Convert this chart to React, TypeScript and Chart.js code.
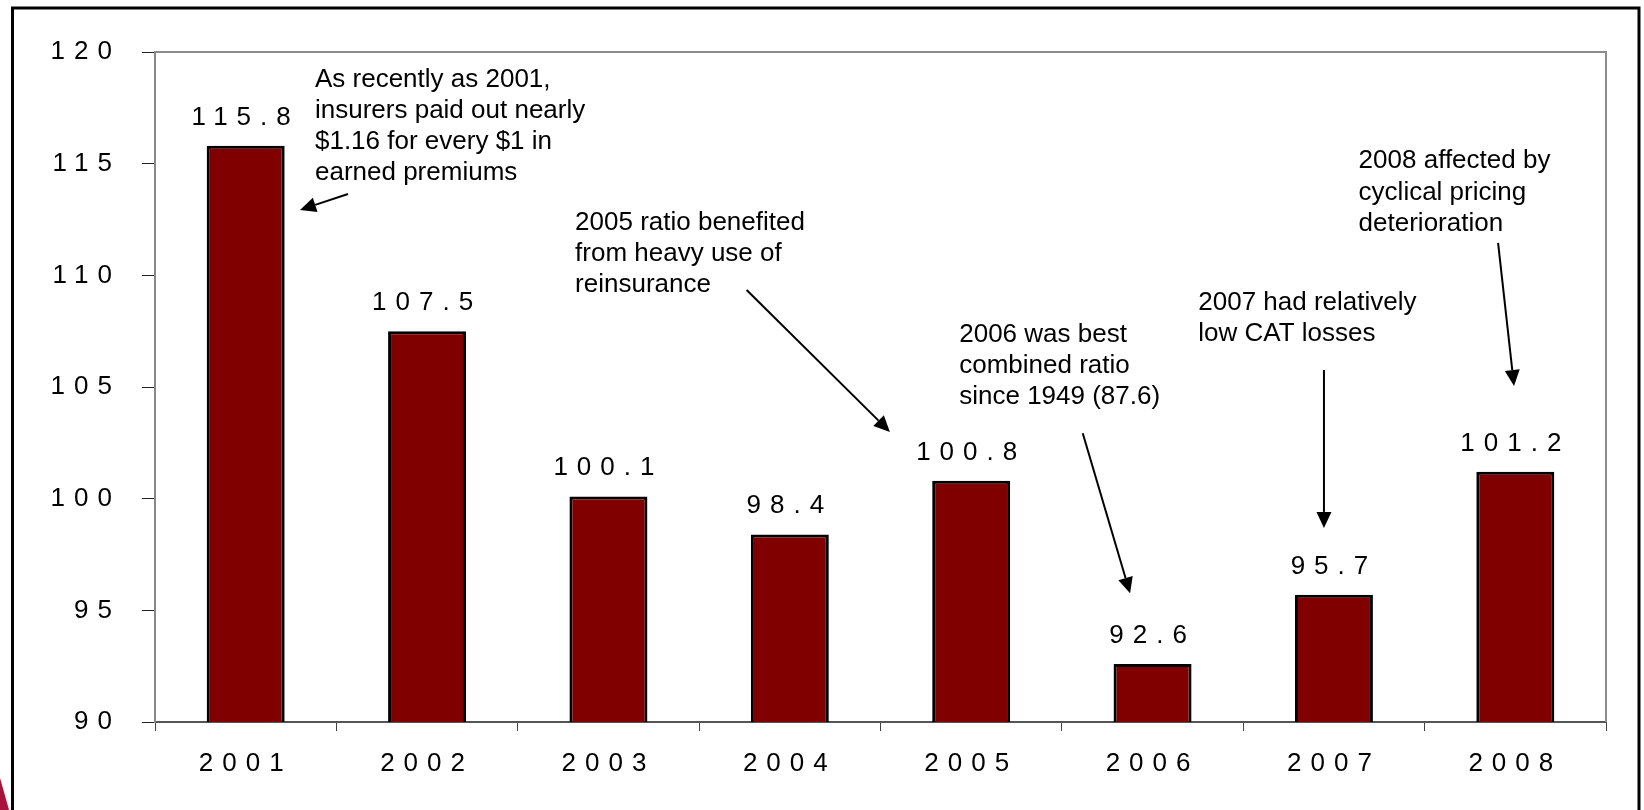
import React, { useEffect, useRef } from 'react';
import { Chart, registerables } from 'chart.js';

Chart.register(...registerables);

// ---- data ----
const years = ['2001', '2002', '2003', '2004', '2005', '2006', '2007', '2008'];
const combinedRatio = [115.8, 107.5, 100.1, 98.4, 100.8, 92.6, 95.7, 101.2];
const yMin = 90;
const yMax = 120;
const yStep = 5;

// ---- annotations (positions in data units: x = category index, y = value) ----
const noteLines = [
  ['As recently as 2001,', 'insurers paid out nearly', '$1.16 for every $1 in', 'earned premiums'],
  ['2005 ratio benefited', 'from heavy use of', 'reinsurance'],
  ['2006 was best', 'combined ratio', 'since 1949 (87.6)'],
  ['2007 had relatively', 'low CAT losses'],
  ['2008 affected by', 'cyclical pricing', 'deterioration'],
];
const noteTextAt = [
  [0.382, 118.45],
  [1.816, 112.03],
  [3.934, 107.03],
  [5.252, 108.45],
  [6.136, 114.79],
];
const noteArrowFrom = [
  [0.564, 113.64],
  [2.762, 109.34],
  [4.615, 102.93],
  [5.945, 105.76],
  [6.905, 111.45],
];
const noteArrowTo = [
  [0.2995, 112.93],
  [3.552, 102.99],
  [4.876, 95.76],
  [5.945, 98.69],
  [6.993, 105.04],
];

const FONT = 'Arial, "Liberation Sans", sans-serif';
const SPACING = '9px';

function drawArrow(ctx: CanvasRenderingContext2D, x1: number, y1: number, x2: number, y2: number) {
  const ang = Math.atan2(y2 - y1, x2 - x1);
  const headLen = 16;
  const headHalf = 7.5;
  const bx = x2 - headLen * Math.cos(ang);
  const by = y2 - headLen * Math.sin(ang);
  ctx.beginPath();
  ctx.moveTo(x1, y1);
  ctx.lineTo(bx, by);
  ctx.stroke();
  ctx.beginPath();
  ctx.moveTo(x2, y2);
  ctx.lineTo(bx + headHalf * Math.sin(ang), by - headHalf * Math.cos(ang));
  ctx.lineTo(bx - headHalf * Math.sin(ang), by + headHalf * Math.cos(ang));
  ctx.closePath();
  ctx.fill();
}

const decorPlugin = {
  id: 'decor',
  beforeUpdate(chart: any) {
    chart.ctx.letterSpacing = SPACING;
  },
  beforeLayout(chart: any) {
    chart.ctx.letterSpacing = SPACING;
  },
  beforeDraw(chart: any) {
    const ctx = chart.ctx as CanvasRenderingContext2D;
    (ctx as any).letterSpacing = SPACING;
    ctx.save();
    ctx.fillStyle = '#ffffff';
    ctx.fillRect(0, 0, chart.width, chart.height);
    ctx.restore();
  },
  beforeDatasetsDraw(chart: any) {
    const ctx = chart.ctx as CanvasRenderingContext2D;
    const { left, top, right, bottom } = chart.chartArea;
    ctx.save();
    ctx.strokeStyle = '#8c8c8c';
    ctx.lineWidth = 2;
    ctx.beginPath();
    ctx.moveTo(left, top);
    ctx.lineTo(right, top);
    ctx.lineTo(right, bottom);
    ctx.stroke();
    ctx.restore();
  },
  afterDatasetsDraw(chart: any) {
    const ctx = chart.ctx as CanvasRenderingContext2D;
    const meta = chart.getDatasetMeta(0);
    ctx.save();
    (ctx as any).letterSpacing = SPACING;
    ctx.font = `26px ${FONT}`;
    ctx.fillStyle = '#000';
    ctx.textAlign = 'center';
    ctx.textBaseline = 'alphabetic';
    meta.data.forEach((bar: any, i: number) => {
      ctx.fillText(combinedRatio[i].toFixed(1), bar.x, bar.y - 21);
    });
    ctx.restore();
  },
  afterDraw(chart: any) {
    const ctx = chart.ctx as CanvasRenderingContext2D;
    const xs = chart.scales.x;
    const ys = chart.scales.y;
    const px = (v: number) => xs.getPixelForValue(v);
    const py = (v: number) => ys.getPixelForValue(v);
    ctx.save();
    (ctx as any).letterSpacing = '0px';
    ctx.font = `26px ${FONT}`;
    ctx.fillStyle = '#000';
    ctx.strokeStyle = '#000';
    ctx.lineWidth = 2;
    ctx.textAlign = 'left';
    ctx.textBaseline = 'alphabetic';
    noteLines.forEach((lines, i) => {
      const x = px(noteTextAt[i][0]);
      const y = py(noteTextAt[i][1]);
      lines.forEach((t, j) => ctx.fillText(t, x, y + j * 31.2));
      drawArrow(
        ctx,
        px(noteArrowFrom[i][0]),
        py(noteArrowFrom[i][1]),
        px(noteArrowTo[i][0]),
        py(noteArrowTo[i][1])
      );
    });
    // slide frame
    ctx.lineWidth = 3;
    ctx.beginPath();
    ctx.moveTo(12.5, chart.height + 5);
    ctx.lineTo(12.5, 8);
    ctx.lineTo(1639, 8);
    ctx.lineTo(1639, chart.height + 5);
    ctx.stroke();
    // corner decoration
    ctx.fillStyle = '#a8143c';
    ctx.beginPath();
    ctx.moveTo(0, 778);
    ctx.lineTo(9, chart.height);
    ctx.lineTo(0, chart.height);
    ctx.closePath();
    ctx.fill();
    ctx.restore();
  },
};

export default function App() {
  const ref = useRef<HTMLCanvasElement | null>(null);
  useEffect(() => {
    document.body.style.margin = '0';
    const canvas = ref.current;
    if (!canvas) return;
    const chart = new Chart(canvas, {
      type: 'bar',
      data: {
        labels: years,
        datasets: [
          {
            data: combinedRatio,
            backgroundColor: '#800000',
            borderColor: '#000000',
            borderWidth: 3,
            barPercentage: 0.43,
            categoryPercentage: 1.0,
          },
        ],
      },
      options: {
        responsive: false,
        devicePixelRatio: 1,
        animation: false,
        events: [],
        layout: { padding: { left: 0, top: 52, right: 38, bottom: 0 } },
        plugins: {
          legend: { display: false },
          tooltip: { enabled: false },
          title: { display: false },
        },
        scales: {
          x: {
            afterFit: (s: any) => {
              s.height = 88;
            },
            grid: {
              display: true,
              drawOnChartArea: false,
              drawTicks: true,
              tickLength: 9,
              color: '#444444',
              lineWidth: 1,
              offset: true,
            },
            border: { display: true, color: '#555555', width: 2 },
            ticks: {
              color: '#000',
              font: { size: 26, family: FONT },
              padding: 17,
              maxRotation: 0,
              autoSkip: false,
            },
          },
          y: {
            min: yMin,
            max: yMax,
            afterFit: (s: any) => {
              s.width = 155;
            },
            grid: {
              display: true,
              drawOnChartArea: false,
              drawTicks: true,
              tickLength: 13,
              color: '#222222',
              lineWidth: 1,
            },
            border: { display: true, color: '#888888', width: 2 },
            ticks: {
              stepSize: yStep,
              color: '#000',
              font: { size: 26, family: FONT },
              padding: 21,
            },
          },
        },
      },
      plugins: [decorPlugin],
    });
    return () => chart.destroy();
  }, []);
  return <canvas ref={ref} width={1644} height={810} style={{ display: 'block' }} />;
}
